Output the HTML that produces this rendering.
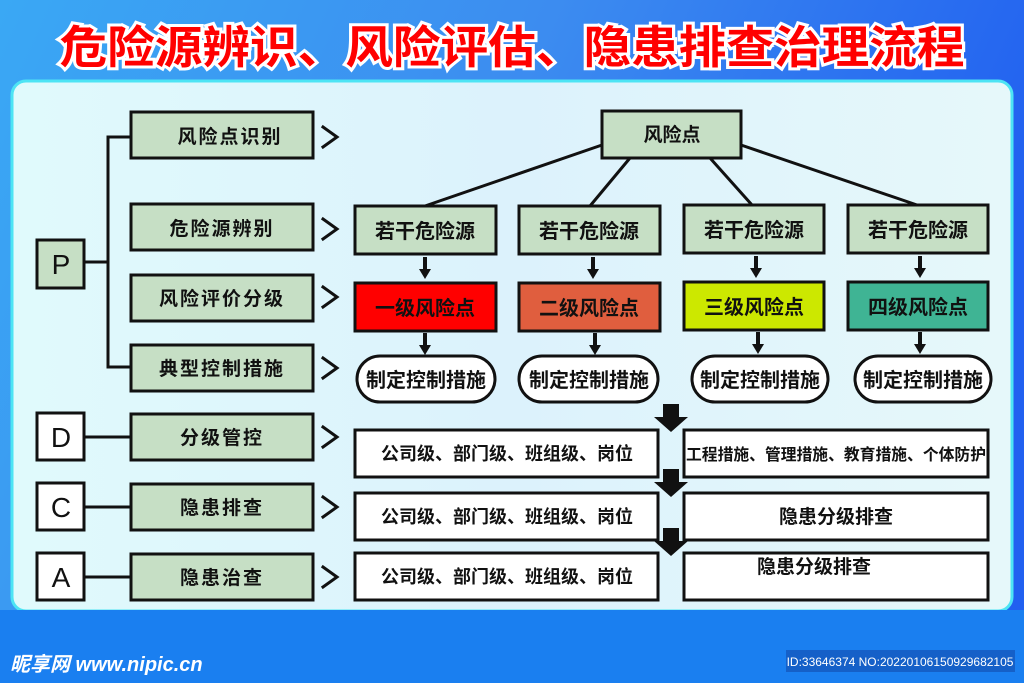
<!DOCTYPE html>
<html><head><meta charset="utf-8"><style>
html,body{margin:0;padding:0;width:1024px;height:683px;overflow:hidden;background:#2a7ef0}
svg{display:block}
text{font-family:"Liberation Sans","Noto Sans CJK SC",sans-serif;font-weight:bold}
</style></head><body>
<svg width="1024" height="683" viewBox="0 0 1024 683" xmlns="http://www.w3.org/2000/svg">
<defs>
<linearGradient id="bg" x1="0" y1="0" x2="1" y2="0.3">
<stop offset="0" stop-color="#3aa8f4"/><stop offset="0.5" stop-color="#3c8cf0"/><stop offset="1" stop-color="#2160f0"/>
</linearGradient>
<linearGradient id="pn" x1="0" y1="0" x2="1" y2="0">
<stop offset="0" stop-color="#e0fafc"/><stop offset="0.5" stop-color="#dcf2fc"/><stop offset="1" stop-color="#e6f8fa"/>
</linearGradient>
<g id="da"><rect x="-2" y="0" width="4" height="14"/><polygon points="-6,12 6,12 0,22"/></g>
<g id="ba"><rect x="-8" y="0" width="16" height="14"/><polygon points="-17,13 17,13 0,28"/></g>
</defs>
<rect width="1024" height="683" fill="url(#bg)"/>
<rect x="12" y="81" width="1000" height="530" rx="14" fill="url(#pn)" stroke="#4de4f4" stroke-width="3"/>
<rect x="0" y="610" width="1024" height="73" fill="#1a7ff0"/>
<text x="512" y="63" text-anchor="middle" font-size="45" fill="#ff0000" stroke="#ffffff" stroke-width="6" paint-order="stroke" textLength="905" lengthAdjust="spacingAndGlyphs">危险源辨识、风险评估、隐患排查治理流程</text>

<g stroke="#111" stroke-width="3" fill="#c6dfc5">
<rect x="131" y="112" width="182" height="46"/>
<rect x="131" y="204" width="182" height="46"/>
<rect x="131" y="275" width="182" height="46"/>
<rect x="131" y="345" width="182" height="46"/>
<rect x="131" y="414" width="182" height="46"/>
<rect x="131" y="484" width="182" height="46"/>
<rect x="131" y="554" width="182" height="46"/>
<rect x="37" y="240" width="47" height="48"/>
<rect x="37" y="413" width="47" height="47" fill="#fff"/>
<rect x="37" y="483" width="47" height="47" fill="#fff"/>
<rect x="37" y="553" width="47" height="47" fill="#fff"/>
<rect x="602" y="111" width="139" height="47"/>
<rect x="355" y="206" width="141" height="48"/>
<rect x="519" y="206" width="141" height="48"/>
<rect x="684" y="205" width="140" height="48"/>
<rect x="848" y="205" width="140" height="48"/>
<rect x="355" y="283" width="141" height="48" fill="#ff0000"/>
<rect x="519" y="283" width="141" height="48" fill="#e05e3e"/>
<rect x="684" y="282" width="140" height="48" fill="#cce800"/>
<rect x="848" y="282" width="140" height="48" fill="#3fb494"/>
<rect x="357" y="356" width="138" height="46" rx="23" fill="#fff"/>
<rect x="519" y="356" width="139" height="46" rx="23" fill="#fff"/>
<rect x="692" y="356" width="136" height="46" rx="23" fill="#fff"/>
<rect x="855" y="356" width="136" height="46" rx="23" fill="#fff"/>
<rect x="355" y="430" width="303" height="47" fill="#fff"/>
<rect x="355" y="493" width="303" height="47" fill="#fff"/>
<rect x="355" y="553" width="303" height="47" fill="#fff"/>
<rect x="684" y="430" width="304" height="47" fill="#fff"/>
<rect x="684" y="493" width="304" height="47" fill="#fff"/>
<rect x="684" y="553" width="304" height="47" fill="#fff"/>
</g>
<g stroke="#111" stroke-width="3" fill="none">
<polyline points="131,137 108,137 108,367 131,367"/>
<line x1="84" y1="262" x2="108" y2="262"/>
<line x1="84" y1="437" x2="131" y2="437"/>
<line x1="84" y1="507" x2="131" y2="507"/>
<line x1="84" y1="577" x2="131" y2="577"/>
<line x1="602" y1="145" x2="425" y2="206"/>
<line x1="630" y1="158" x2="590" y2="206"/>
<line x1="710" y1="158" x2="752" y2="205"/>
<line x1="741" y1="145" x2="917" y2="205"/>
</g>
<g stroke="#111" stroke-width="3" fill="none" stroke-linecap="square">
<polyline points="323,127 337,137 323,147"/>
<polyline points="323,219 337,229 323,239"/>
<polyline points="323,287 337,297 323,307"/>
<polyline points="323,358 337,368 323,378"/>
<polyline points="323,427 337,437 323,447"/>
<polyline points="323,497 337,507 323,517"/>
<polyline points="323,567 337,577 323,587"/>
</g>
<g fill="#111">
<use href="#da" x="425" y="257"/><use href="#da" x="593" y="257"/><use href="#da" x="756" y="256"/><use href="#da" x="920" y="256"/>
<use href="#da" x="425" y="333"/><use href="#da" x="595" y="333"/><use href="#da" x="758" y="332"/><use href="#da" x="920" y="332"/>
<use href="#ba" x="671" y="404"/><use href="#ba" x="671" y="469"/><use href="#ba" x="671" y="528"/>
</g>
<g font-size="19" fill="#111" text-anchor="middle">
<text x="230" y="143" letter-spacing="2">风险点识别</text>
<text x="222" y="235" letter-spacing="2">危险源辨别</text>
<text x="222" y="305" letter-spacing="2">风险评价分级</text>
<text x="222" y="375" letter-spacing="2">典型控制措施</text>
<text x="222" y="444" letter-spacing="2">分级管控</text>
<text x="222" y="514" letter-spacing="2">隐患排查</text>
<text x="222" y="584" letter-spacing="2">隐患治查</text>
<text x="672" y="141">风险点</text>
</g>
<g font-size="28" fill="#111" text-anchor="middle">
<text x="61" y="274" style="font-weight:normal">P</text>
<text x="61" y="447" style="font-weight:normal">D</text>
<text x="61" y="517" style="font-weight:normal">C</text>
<text x="61" y="587" style="font-weight:normal">A</text>
</g>
<g font-size="20" fill="#111" text-anchor="middle">
<text x="425" y="238">若干危险源</text><text x="589" y="238">若干危险源</text>
<text x="754" y="237">若干危险源</text><text x="918" y="237">若干危险源</text>
<text x="425" y="315">一级风险点</text><text x="589" y="315">二级风险点</text>
<text x="754" y="314">三级风险点</text><text x="918" y="314">四级风险点</text>
<text x="426" y="387">制定控制措施</text><text x="589" y="387">制定控制措施</text>
<text x="760" y="387">制定控制措施</text><text x="923" y="387">制定控制措施</text>
</g>
<g font-size="18" fill="#111" text-anchor="middle">
<text x="507" y="460">公司级、部门级、班组级、岗位</text>
<text x="507" y="523">公司级、部门级、班组级、岗位</text>
<text x="507" y="583">公司级、部门级、班组级、岗位</text>
<text x="836" y="460" font-size="16" textLength="300" lengthAdjust="spacingAndGlyphs">工程措施、管理措施、教育措施、个体防护</text>
<text x="836" y="523" font-size="19">隐患分级排查</text>
<text x="814" y="573" font-size="19">隐患分级排查</text>
</g>
<text x="10" y="671" font-size="20" fill="#fff" font-style="italic">昵享网 www.nipic.cn</text>
<rect x="786" y="650" width="229" height="22" fill="#1560c8"/>
<text x="900" y="666" font-size="12" fill="#fff" text-anchor="middle" style="font-weight:normal">ID:33646374 NO:20220106150929682105</text>
</svg>
</body></html>
